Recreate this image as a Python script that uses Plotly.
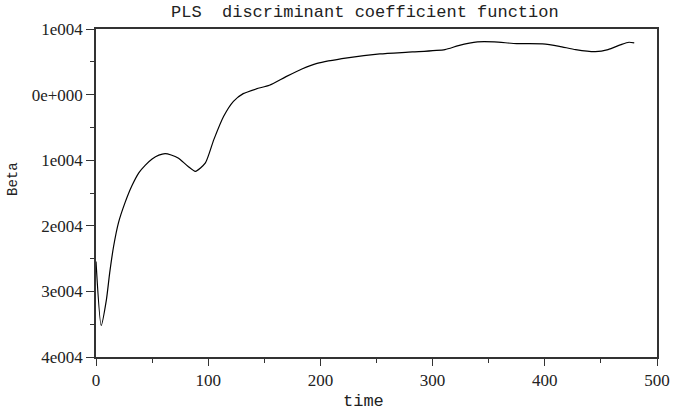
import plotly.graph_objects as go

time = [0, 4.6, 9.3, 12.2, 15.7, 20, 25.8, 32, 38.3, 44, 50, 56, 61.6, 67, 73.2, 81.9, 88.6, 97.5, 105, 113.8, 122.5,
        131.2, 142.9, 154.5, 169, 183.5, 197, 224, 253, 282, 311, 323, 340, 355, 375, 398,
        413, 427.5, 445, 456.4, 468, 475, 479.7]
beta = [-25450, -35200, -31240, -27170, -23120, -19550, -16510, -13900, -11890, -10740, -9800, -9220, -8990, -9200,
        -9650, -10920, -11690, -10410, -6860, -3300, -1020, 150, 870, 1420, 2700, 3910, 4750, 5590, 6200, 6500, 6860,
        7470, 8030, 8030, 7770, 7730, 7360, 6860, 6550, 6860, 7620, 7980, 7880]

x_ticks = [0, 100, 200, 300, 400, 500]
y_ticks = [10000, 0, -10000, -20000, -30000, -40000]
y_tick_labels = ["1e004", "0e+000", "1e004", "2e004", "3e004", "4e004"]

fig = go.Figure()
fig.add_trace(go.Scatter(x=time, y=beta, mode="lines",
                         line=dict(color="black", width=1.2, shape="spline", smoothing=0.6),
                         showlegend=False, hoverinfo="skip"))

tickfont = dict(family="Liberation Serif", size=17, color="#222")
mono = dict(family="Liberation Mono", size=17, color="#222")

fig.update_layout(
    width=681, height=410,
    margin=dict(l=96, r=11, t=29, b=53),
    paper_bgcolor="white", plot_bgcolor="white",
    xaxis=dict(range=[0, 500], tickvals=x_ticks, ticks="outside", ticklen=7, tickwidth=1.2,
               tickcolor="#333", showline=True, linecolor="#333", linewidth=1.5, mirror=True,
               showgrid=False, zeroline=False, tickfont=tickfont,
               minor=dict(tickvals=[50, 150, 250, 350, 450], ticks="outside", ticklen=4, tickcolor="#333")),
    yaxis=dict(range=[-40000, 10000], tickvals=y_ticks, ticktext=y_tick_labels, ticks="outside",
               ticklen=8, tickwidth=1.2, tickcolor="#333", showline=True, linecolor="#333", linewidth=1.5,
               mirror=True, showgrid=False, zeroline=False, tickfont=tickfont,
               minor=dict(tickvals=[5000, -5000, -15000, -25000, -35000], ticks="outside", ticklen=4, tickcolor="#333")),
    annotations=[
        dict(text="PLS\u00a0 discriminant coefficient function", xref="paper", yref="paper",
             x=(371 - 96) / 574, y=1, yshift=17, xanchor="center", yanchor="middle", showarrow=False, font=mono),
        dict(text="time", xref="paper", yref="paper", x=(370 - 96) / 574, y=0, yshift=-44,
             xanchor="center", yanchor="middle", showarrow=False, font=mono),
        dict(text="Beta", xref="paper", yref="paper", x=0, xshift=-83, y=(357 - 179) / 328,
             xanchor="center", yanchor="middle", textangle=-90, showarrow=False,
             font=dict(family="Liberation Mono", size=14, color="#222")),
    ],
)

fig.write_html("out.html")
